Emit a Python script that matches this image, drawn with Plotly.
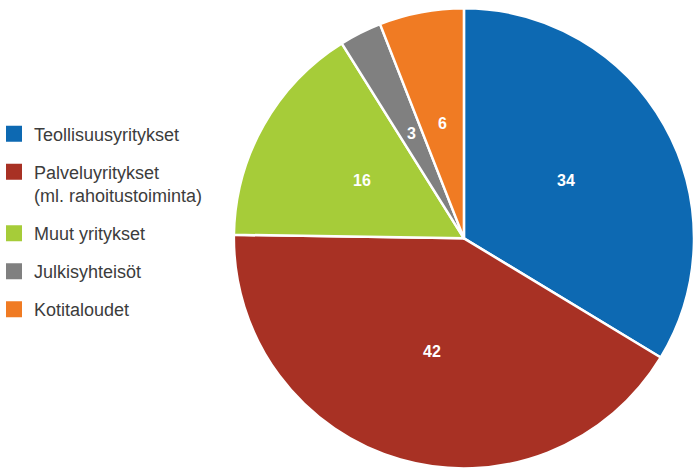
import math
import plotly.graph_objects as go

labels = ["Teollisuusyritykset", "Palveluyritykset<br>(ml. rahoitustoiminta)", "Muut yritykset", "Julkisyhteisöt", "Kotitaloudet"]
values = [34, 42, 16, 3, 6]
colors = ["#0d69b2", "#a83124", "#a6cc39", "#808080", "#f07b23"]

W, H = 694, 472
dom_x = [0.337, 1.0]
dom_y = [0.0, 0.99]

fig = go.Figure()
fig.add_trace(go.Pie(
    labels=labels, values=values, sort=False, direction="clockwise", rotation=0,
    marker=dict(colors=colors, line=dict(color="white", width=2.5)),
    textinfo="none", showlegend=False, hoverinfo="label+value",
    domain=dict(x=dom_x, y=dom_y),
))
for lab, col in zip(labels, colors):
    fig.add_trace(go.Scatter(
        x=[None], y=[None], mode="markers", name=lab, legendgroup=lab,
        marker=dict(symbol="square", size=16, color=col), showlegend=True,
    ))

# value labels placed at about half radius along each slice's mid-angle
cx = (dom_x[0] + dom_x[1]) / 2 * W
cy = (dom_y[0] + dom_y[1]) / 2 * H
R = min((dom_x[1] - dom_x[0]) * W, (dom_y[1] - dom_y[0]) * H) / 2
total = sum(values)
annotations = []
cum = 0
for v in values:
    theta = 2 * math.pi * (cum + v / 2) / total
    cum += v
    r = 0.51 * R
    annotations.append(dict(
        x=(cx + r * math.sin(theta)) / W, y=(cy + r * math.cos(theta)) / H,
        xref="paper", yref="paper", text=str(v), showarrow=False,
        xanchor="center", yanchor="middle",
        font=dict(family="Liberation Sans, Arial", size=16, color="white", weight="bold"),
    ))

fig.update_layout(
    width=W, height=H,
    margin=dict(l=0, r=0, t=0, b=0),
    paper_bgcolor="white", plot_bgcolor="white",
    xaxis=dict(visible=False), yaxis=dict(visible=False),
    annotations=annotations,
    legend=dict(
        x=0.0, xanchor="left", y=0.755, yanchor="top", indentation=-6,
        font=dict(family="Liberation Sans, Arial", size=18, color="#3c3c3c"),
        tracegroupgap=11.6, valign="top", bgcolor="rgba(0,0,0,0)",
    ),
)
fig.write_html("out.html", config={"displayModeBar": False},
               post_script="document.body.style.margin='0';")
